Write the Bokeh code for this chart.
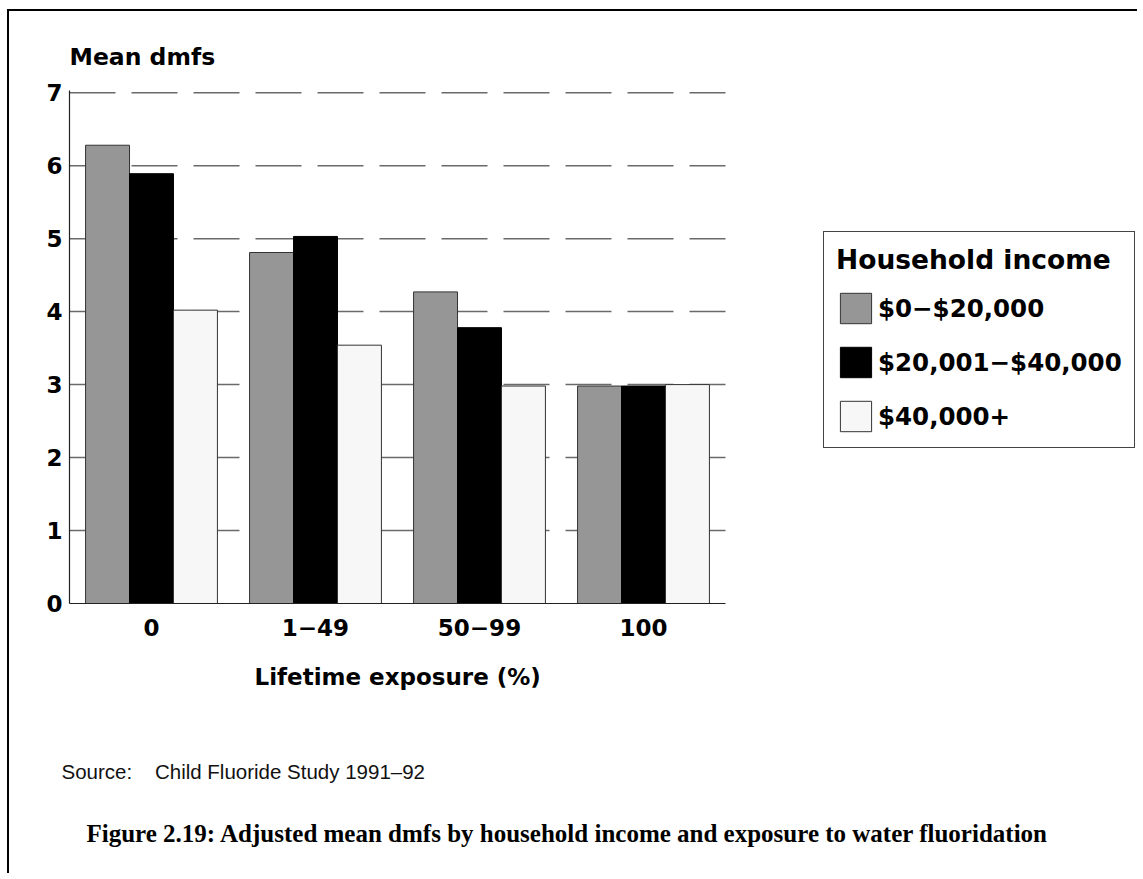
from bokeh.plotting import figure
from bokeh.models import (ColumnDataSource, Range1d, Legend, LegendItem,
                          Title, FixedTicker)
from bokeh.transform import dodge
from bokeh.embed import file_html
from bokeh.resources import INLINE

# ---- data ----
exposure = ["0", "1\u221249", "50\u221299", "100"]
income_groups = ["$0\u2212$20,000", "$20,001\u2212$40,000", "$40,000+"]
inc_low = [6.28, 4.81, 4.27, 2.98]
inc_mid = [5.89, 5.03, 3.78, 2.98]
inc_high = [4.02, 3.54, 2.98, 3.00]
y_ticks = [0, 1, 2, 3, 4, 5, 6, 7]

FONT = "DejaVu Sans"
n_cat = len(exposure)
cat_pos = [i + 0.5 for i in range(n_cat)]      # centre of each category slot

src = ColumnDataSource(dict(pos=cat_pos, low=inc_low, mid=inc_mid, high=inc_high))
grid_src = ColumnDataSource(dict(y=y_ticks[1:]))

WIDTH, HEIGHT = 1130, 864
LEFT = 60
CAT_PX = 164.0                                  # pixel width of one category slot
x_end = (WIDTH - LEFT) / CAT_PX

p = figure(width=WIDTH, height=HEIGHT, title=None,
           x_range=Range1d(0, x_end), y_range=Range1d(0, 7.03),
           output_backend="svg", toolbar_location=None,
           min_border_left=LEFT, min_border_right=0,
           min_border_top=79, min_border_bottom=272)
p.margin = (9, 0, 0, 7)
p.styles = {"border-top": "2.5px solid black", "border-left": "2.5px solid black"}
p.outline_line_color = None
p.background_fill_color = "white"
p.border_fill_color = "white"
p.xgrid.grid_line_color = None
p.ygrid.grid_line_color = None

# dashed horizontal grid lines spanning the category area only
p.segment(x0=0, x1=n_cat, y0="y", y1="y", source=grid_src,
          line_color="#6a6a6a", line_width=1.5, line_dash="46 16")

# axes
p.yaxis.ticker = FixedTicker(ticks=y_ticks)
p.xaxis.ticker = FixedTicker(ticks=cat_pos)
p.xaxis.major_label_overrides = {pos: lab for pos, lab in zip(cat_pos, exposure)}
p.xaxis.bounds = (0, n_cat)
for ax in (p.xaxis, p.yaxis):
    ax.major_tick_line_color = None
    ax.minor_tick_line_color = None
    ax.major_tick_out = 0
    ax.major_tick_in = 0
    ax.minor_tick_out = 0
    ax.axis_line_color = "#222222"
    ax.axis_line_width = 1.2
    ax.major_label_text_font = FONT
    ax.major_label_text_font_style = "bold"
    ax.major_label_text_color = "black"
    ax.major_label_text_font_size = "23px"
p.yaxis.major_label_standoff = 7
p.xaxis.major_label_standoff = 15

W = 0.268
r1 = p.vbar(x=dodge("pos", -W), top="low", width=W, source=src,
            fill_color="#969696", line_color="#333333", line_width=1)
r2 = p.vbar(x=dodge("pos", 0), top="mid", width=W, source=src,
            fill_color="#000000", line_color="#000000", line_width=1)
r3 = p.vbar(x=dodge("pos", W), top="high", width=W, source=src,
            fill_color="#f7f7f7", line_color="#333333", line_width=1)

legend = Legend(items=[LegendItem(label=income_groups[0], renderers=[r1]),
                       LegendItem(label=income_groups[1], renderers=[r2]),
                       LegendItem(label=income_groups[2], renderers=[r3])],
                title="Household income", location=(754, 155),
                orientation="vertical")
legend.title_text_font = FONT
legend.title_text_font_style = "bold"
legend.title_text_font_size = "26.5px"
legend.title_text_color = "black"
legend.title_standoff = 14
legend.label_text_font = FONT
legend.label_text_font_style = "bold"
legend.label_text_font_size = "24.5px"
legend.label_text_color = "black"
legend.label_height = 38
legend.glyph_width = 39
legend.glyph_height = 38
legend.label_standoff = 3
legend.spacing = 16
legend.padding = 12
legend.margin = 0
legend.border_line_color = "#444444"
legend.border_line_alpha = 1
legend.border_line_width = 1.5
legend.background_fill_color = "white"
legend.background_fill_alpha = 1
p.add_layout(legend, "center")

# y-axis title (above the plot)
p.add_layout(Title(text="Mean dmfs", align="left", offset=0, standoff=40,
                   text_font=FONT, text_font_style="bold", text_font_size="23.5px",
                   text_color="black"), "above")
# x-axis title, centred under the category area
p.add_layout(Title(text="Lifetime exposure (%)", align="left", offset=185, standoff=47,
                   text_font=FONT, text_font_style="bold", text_font_size="23px",
                   text_color="black"), "below")
# source note and caption (below)
p.add_layout(Title(text="Source:\u00a0\u00a0\u00a0\u00a0Child Fluoride Study 1991\u201392", align="left",
                   offset=-8, standoff=88, text_font="Liberation Sans",
                   text_font_style="normal", text_font_size="20.5px",
                   text_color="#111111"), "below")
p.add_layout(Title(text="Figure 2.19: Adjusted mean dmfs by household income and exposure to water fluoridation",
                   align="left", offset=17, standoff=-17, text_font="Liberation Serif",
                   text_font_style="bold", text_font_size="25px",
                   text_color="black"), "below")

open("out.html", "w").write(file_html(p, INLINE))
